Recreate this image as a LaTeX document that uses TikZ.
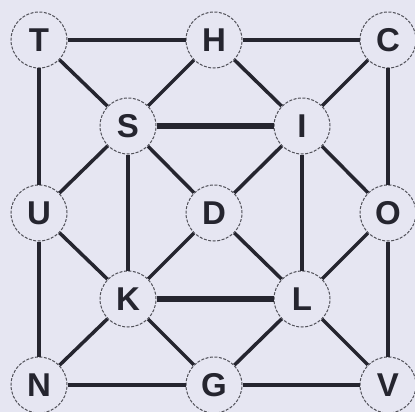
\documentclass[tikz,border=0pt]{standalone}
\usepackage{fontspec}
\setmainfont{Liberation Sans}
\definecolor{bg}{HTML}{E6E6F2}
\definecolor{ink}{HTML}{25252F}
\begin{document}
\begin{tikzpicture}[x=1pt,y=-1pt,
  vert/.style={circle,draw=ink!80,line width=1pt,dash pattern=on 3pt off 1.5pt,fill=bg,minimum size=56pt,inner sep=0pt,font=\fontsize{33}{33}\selectfont\bfseries,text=ink},
  edge/.style={draw=ink,line width=3.5pt},
  heavy/.style={draw=ink,line width=6pt}]
\fill[bg] (0,0) rectangle (415,412);
\useasboundingbox (0,0) rectangle (415,412);
\node[vert] (T) at (39,40) {T};
\node[vert] (H) at (214,40) {H};
\node[vert] (C) at (388,40) {C};
\node[vert] (S) at (128,126) {S};
\node[vert] (I) at (302,126) {I};
\node[vert] (U) at (39,213) {U};
\node[vert] (D) at (214,213) {D};
\node[vert] (O) at (388,213) {O};
\node[vert] (K) at (128,299) {K};
\node[vert] (L) at (302,299) {L};
\node[vert] (N) at (39,385) {N};
\node[vert] (G) at (214,385) {G};
\node[vert] (V) at (388,385) {V};
\foreach \a/\b in {T/H,H/C,T/U,U/N,N/G,G/V,C/O,O/V,T/S,H/S,H/I,C/I,S/U,S/K,S/D,I/D,I/O,I/L,U/K,D/K,D/L,O/L,K/N,K/G,L/G,L/V}
  \draw[edge] (\a) -- (\b);
\draw[heavy] (S) -- (I);
\draw[heavy] (K) -- (L);
\end{tikzpicture}
\end{document}
